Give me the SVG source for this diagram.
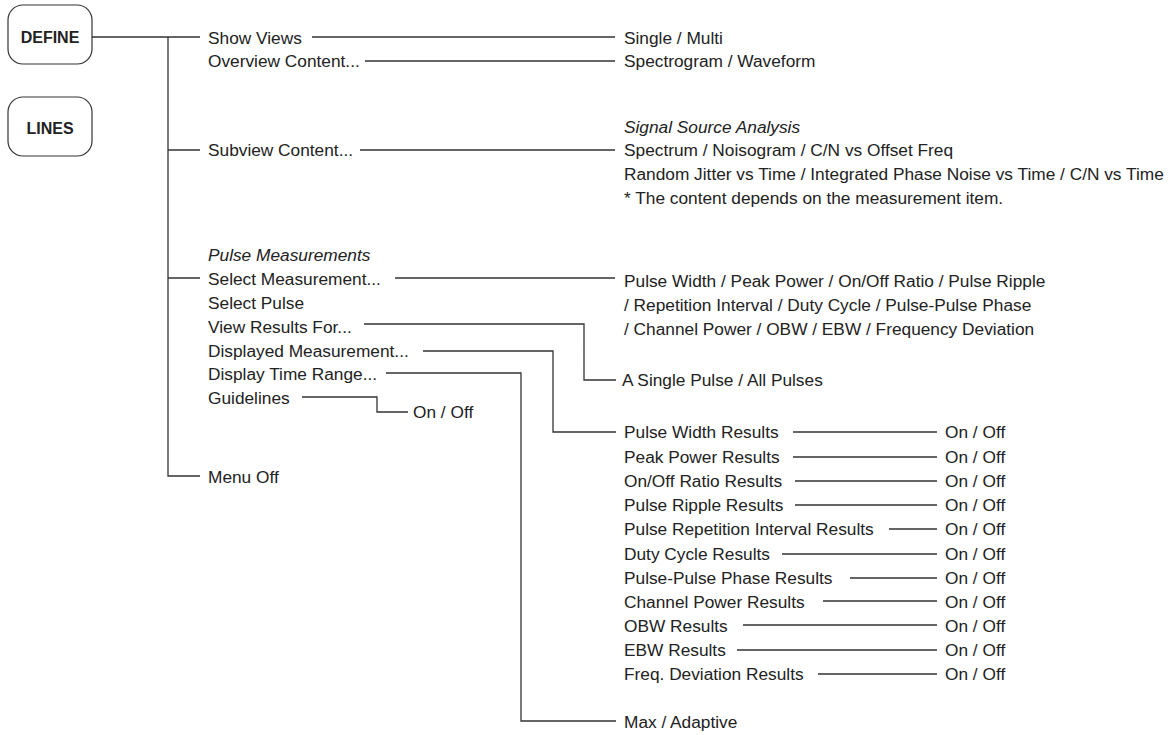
<svg xmlns="http://www.w3.org/2000/svg" width="1175" height="735" viewBox="0 0 1175 735">
<style>
  text { font-family: "Liberation Sans", Arial, sans-serif; font-size: 17.3px; fill: #222; }
  .it { font-style: italic; }
  .key { font-weight: bold; font-size: 16px; text-anchor: middle; }
  .box { fill: #fff; stroke: #333; stroke-width: 1.2; }
  .ln { fill: none; stroke: #333; stroke-width: 1.3; }
</style>
<rect width="1175" height="735" fill="#fff"/>
<g id="key-define"><rect class="box" x="8" y="5" width="84" height="59" rx="15"/><text class="key" x="50" y="43">DEFINE</text></g>
<g id="key-lines"><rect class="box" x="8" y="97" width="84" height="59" rx="15"/><text class="key" x="50" y="134">LINES</text></g>
<g id="connectors">
  <path class="ln" d="M92 37H200M168 37V476H200M168 150H200M168 278H200"/>
  <path class="ln" d="M312 37H615M365 61H615M360 150H615M395 278H615"/>
  <path class="ln" d="M364 324H584V380H616M423 351H553V432H616M386 373H521V721H616M302 397H377V412H408"/>
  <path class="ln" d="M793 432H937M793 457H937M795 481H937M795 505H937M889 529H937M782 554H937M850 578H937M823 601H937M743 625H937M737 650H937M818 674H937"/>
</g>
<g id="menu">
  <text x="208" y="44">Show Views</text>
  <text x="208" y="67">Overview Content...</text>
  <text x="208" y="156">Subview Content...</text>
  <text class="it" x="208" y="261">Pulse Measurements</text>
  <text x="208" y="285">Select Measurement...</text>
  <text x="208" y="309">Select Pulse</text>
  <text x="208" y="333">View Results For...</text>
  <text x="208" y="357">Displayed Measurement...</text>
  <text x="208" y="380">Display Time Range...</text>
  <text x="208" y="404">Guidelines</text>
  <text x="208" y="483">Menu Off</text>
</g>
<g id="guidelines-options"><text x="413" y="418">On / Off</text></g>
<g id="view-options">
  <text x="624" y="44">Single / Multi</text>
  <text x="624" y="67">Spectrogram / Waveform</text>
  <text class="it" x="624" y="133">Signal Source Analysis</text>
  <text x="624" y="156">Spectrum / Noisogram / C/N vs Offset Freq</text>
  <text x="624" y="180">Random Jitter vs Time / Integrated Phase Noise vs Time / C/N vs Time</text>
  <text x="624" y="204">* The content depends on the measurement item.</text>
</g>
<g id="measurement-options">
  <text x="624" y="287">Pulse Width / Peak Power / On/Off Ratio / Pulse Ripple</text>
  <text x="624" y="311">/ Repetition Interval / Duty Cycle / Pulse-Pulse Phase</text>
  <text x="624" y="335">/ Channel Power / OBW / EBW / Frequency Deviation</text>
</g>
<g id="result-options"><text x="622" y="386">A Single Pulse / All Pulses</text></g>
<g id="displayed-results">
  <text x="624" y="438">Pulse Width Results</text>
  <text x="624" y="463">Peak Power Results</text>
  <text x="624" y="487">On/Off Ratio Results</text>
  <text x="624" y="511">Pulse Ripple Results</text>
  <text x="624" y="535">Pulse Repetition Interval Results</text>
  <text x="624" y="560">Duty Cycle Results</text>
  <text x="624" y="584">Pulse-Pulse Phase Results</text>
  <text x="624" y="608">Channel Power Results</text>
  <text x="624" y="632">OBW Results</text>
  <text x="624" y="656">EBW Results</text>
  <text x="624" y="680">Freq. Deviation Results</text>
</g>
<g id="onoff">
  <text x="945" y="438">On / Off</text>
  <text x="945" y="463">On / Off</text>
  <text x="945" y="487">On / Off</text>
  <text x="945" y="511">On / Off</text>
  <text x="945" y="535">On / Off</text>
  <text x="945" y="560">On / Off</text>
  <text x="945" y="584">On / Off</text>
  <text x="945" y="608">On / Off</text>
  <text x="945" y="632">On / Off</text>
  <text x="945" y="656">On / Off</text>
  <text x="945" y="680">On / Off</text>
</g>
<g id="time-range-options"><text x="624" y="728">Max / Adaptive</text></g>
</svg>
